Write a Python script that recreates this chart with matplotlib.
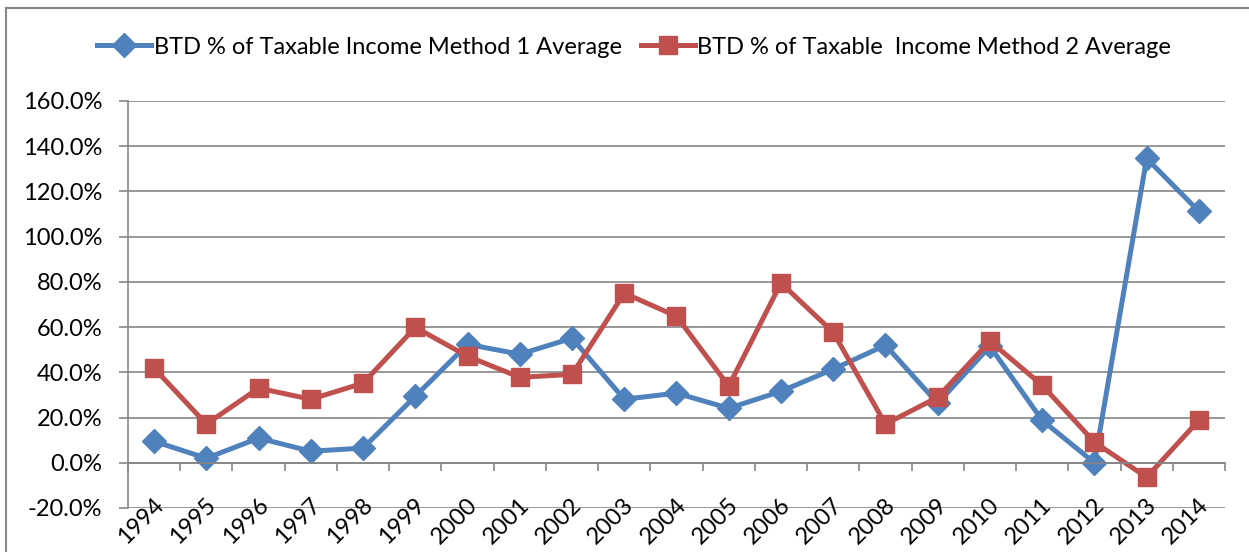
import numpy as np
import matplotlib.pyplot as plt
from matplotlib.patches import Rectangle
from matplotlib.ticker import FuncFormatter

plt.rcParams['font.family'] = ['Lato', 'DejaVu Sans']
SIZE = 17
plt.rc('font', size=SIZE)

years = [str(y) for y in range(1994, 2015)]
method1 = [9.5, 2.0, 10.9, 5.1, 6.5, 29.4, 52.4, 48.0, 55.1, 28.1, 30.8,
           24.1, 31.6, 41.4, 52.0, 26.3, 51.5, 18.8, 0.0, 134.6, 111.2]
method2 = [41.8, 17.1, 33.0, 28.1, 35.2, 59.9, 47.1, 37.8, 39.1, 75.0, 64.8,
           33.9, 79.5, 57.7, 17.1, 29.0, 53.8, 34.3, 9.1, -6.4, 18.8]
label1 = 'BTD % of Taxable Income Method 1 Average'
label2 = 'BTD % of Taxable  Income Method 2 Average'
yticks = [-20, 0, 20, 40, 60, 80, 100, 120, 140, 160]

blue = '#4F81BD'
red = '#C0504D'
grid_c = '#868686'

fig = plt.figure(figsize=(12.49, 5.52), dpi=100)
ax = fig.add_axes([128 / 1249, 1 - 508 / 552, 1097 / 1249, 407 / 552])

x = np.arange(len(years))
ax.plot(x, method1, color=blue, lw=3.6, marker='D', ms=12, label=label1)
ax.plot(x, method2, color=red, lw=3.6, marker='s', ms=13.5, label=label2)

ax.set_xlim(-0.5, len(years) - 0.5)
ax.set_ylim(-20, 160)
ax.set_yticks(yticks)
ax.yaxis.set_major_formatter(FuncFormatter(lambda v, p: '%.1f%%' % v))
ax.grid(axis='y', color=grid_c, lw=1.2)
ax.set_axisbelow(True)

for s in ['top', 'right']:
    ax.spines[s].set_visible(False)
ax.spines['left'].set_color(grid_c)
ax.spines['left'].set_linewidth(1.2)
ax.spines['bottom'].set_color(grid_c)
ax.spines['bottom'].set_linewidth(1.2)
ax.spines['bottom'].set_position(('data', 0))
ax.tick_params(axis='y', colors=grid_c, labelcolor='black', length=6.5,
               width=1.2, pad=12)
ax.tick_params(axis='x', colors=grid_c, length=6, width=1.2, direction='out')
ax.set_xticks(np.arange(len(years) + 1) - 0.5)
ax.set_xticklabels([])

# year labels sit at the -20% line (Excel "low" label position)
for i, yr in enumerate(years):
    ax.text(i + 0.12, -17, yr, rotation=45, ha='right', va='center',
            rotation_mode='anchor', fontsize=SIZE, clip_on=False)

fig.legend(loc='center', bbox_to_anchor=(634 / 1249, 1 - 47 / 552), ncol=2,
           frameon=False, handlelength=2.3, handletextpad=0.1,
           columnspacing=0.8, fontsize=SIZE)

fig.patches.append(Rectangle((6 / 1249, -0.05), 1.2, 1 - 8 / 552 + 0.05,
                             transform=fig.transFigure, fill=False,
                             edgecolor=grid_c, lw=1.5))

fig.savefig('out.png', dpi=100)
